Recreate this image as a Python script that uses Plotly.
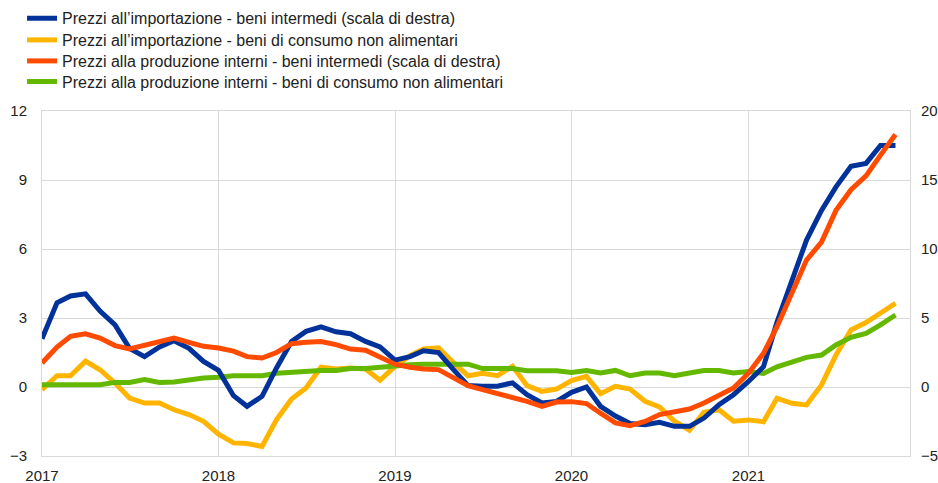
"""
Prezzi all'importazione e alla produzione - beni intermedi e di consumo non alimentari.
"""
import pandas as pd
import plotly.graph_objects as go

# Monthly observations, Jan 2017 - Nov 2021
months = pd.date_range("2017-01-01", periods=59, freq="MS")

# Prezzi all'importazione - beni intermedi (right axis)
import_intermediate = [
    3.5, 6.1, 6.6, 6.75, 5.5, 4.5, 2.8, 2.2, 2.9, 3.35, 2.8, 1.85,
    1.2, -0.63, -1.4, -0.68, 1.38, 3.3, 4.03, 4.35, 4.0, 3.86, 3.3, 2.9,
    1.95, 2.2, 2.63, 2.5, 1.3, 0.1, 0.05, 0.05, 0.3, -0.55, -1.15, -1.05,
    -0.39, 0.0, -1.4, -2.1, -2.65, -2.73, -2.56, -2.85, -2.85, -2.25, -1.28, -0.56,
    0.4, 1.47, 4.7, 7.6, 10.65, 12.8, 14.5, 16.0, 16.2, 17.5, 17.5,
]

# Prezzi all'importazione - beni di consumo non alimentari (left axis)
import_consumer = [
    -0.12, 0.49, 0.49, 1.12, 0.75, 0.17, -0.48, -0.7, -0.7, -0.99, -1.2, -1.49,
    -2.05, -2.43, -2.46, -2.58, -1.42, -0.52, -0.04, 0.86, 0.78, 0.83, 0.78, 0.29,
    0.9, 1.36, 1.65, 1.7, 1.07, 0.49, 0.6, 0.49, 0.9, 0.06, -0.19, -0.09,
    0.28, 0.46, -0.29, 0.03, -0.09, -0.62, -0.87, -1.49, -1.88, -1.1, -0.99, -1.49,
    -1.43, -1.51, -0.49, -0.71, -0.78, 0.09, 1.39, 2.48, 2.8, 3.2, 3.64,
]

# Prezzi alla produzione interni - beni intermedi (right axis)
producer_intermediate = [
    1.74, 2.9, 3.67, 3.86, 3.55, 3.0, 2.75, 3.0, 3.3, 3.55, 3.24, 2.95,
    2.82, 2.6, 2.2, 2.1, 2.5, 3.14, 3.24, 3.3, 3.07, 2.75, 2.66, 2.17,
    1.65, 1.43, 1.3, 1.26, 0.72, 0.1, -0.19, -0.48, -0.68, -1.04, -1.4, -1.09,
    -1.06, -1.2, -1.9, -2.6, -2.8, -2.5, -2.0, -1.84, -1.6, -1.16, -0.63, -0.07,
    1.0, 2.44, 4.37, 6.8, 9.2, 10.5, 12.8, 14.3, 15.3, 16.8, 18.3,
]

# Prezzi alla produzione interni - beni di consumo non alimentari (left axis)
producer_consumer = [
    0.1, 0.1, 0.1, 0.1, 0.1, 0.2, 0.2, 0.32, 0.2, 0.22, 0.32, 0.39,
    0.42, 0.49, 0.49, 0.49, 0.6, 0.64, 0.72, 0.72, 0.72, 0.8, 0.8, 0.87,
    0.92, 0.97, 0.99, 1.0, 1.0, 0.99, 0.8, 0.8, 0.8, 0.71, 0.71, 0.71,
    0.63, 0.72, 0.61, 0.72, 0.49, 0.61, 0.61, 0.49, 0.61, 0.72, 0.72, 0.61,
    0.67, 0.59, 0.88, 1.1, 1.29, 1.39, 1.83, 2.16, 2.33, 2.7, 3.13,
]

SERIES = [
    # (name, values, colour, axis, legend id)
    ("Prezzi all\u2019importazione - beni di consumo non alimentari",
     import_consumer, "#FFB400", "y", "legend2"),
    ("Prezzi alla produzione interni - beni di consumo non alimentari",
     producer_consumer, "#65B800", "y", "legend4"),
    ("Prezzi all\u2019importazione - beni intermedi (scala di destra)",
     import_intermediate, "#003299", "y2", "legend"),
    ("Prezzi alla produzione interni - beni intermedi (scala di destra)",
     producer_intermediate, "#FF4B00", "y2", "legend3"),
]

FONT = "Liberation Sans, Arial, sans-serif"
GRID = "#d9d9d9"
TEXT = "#222222"
W, H = 938, 483

fig = go.Figure()
for name, values, colour, axis, legend_id in SERIES:
    fig.add_trace(go.Scatter(
        x=months,
        y=values,
        name=name,
        mode="lines",
        line=dict(color=colour, width=5),
        yaxis=axis,
        legend=legend_id,
    ))


def _legend(row_y):
    # one single-entry legend per row so the row spacing matches the original
    return dict(
        xref="container", yref="container",
        x=0.0235, y=1 - row_y / H,
        xanchor="left", yanchor="middle",
        bgcolor="rgba(0,0,0,0)",
        font=dict(family=FONT, size=16, color=TEXT),
    )


fig.update_layout(
    width=W,
    height=H,
    margin=dict(l=42, r=28, t=111, b=27, autoexpand=False),
    paper_bgcolor="white",
    plot_bgcolor="white",
    font=dict(family=FONT, size=15, color=TEXT),
    showlegend=True,
    legend=_legend(18.3),
    legend2=_legend(40),
    legend3=_legend(61),
    legend4=_legend(81.7),
    xaxis=dict(
        type="date",
        range=["2017-01-01", "2021-12-01"],
        tick0="2017-01-01",
        dtick="M12",
        tickformat="%Y",
        showgrid=True,
        gridcolor=GRID,
        gridwidth=1,
        showline=True,
        linecolor=GRID,
        mirror=True,
        ticks="",
        ticklabelstandoff=6,
        zeroline=False,
        automargin=False,
    ),
    yaxis=dict(
        range=[-3, 12],
        tickvals=[-3, 0, 3, 6, 9, 12],
        showgrid=True,
        gridcolor=GRID,
        gridwidth=1,
        showline=True,
        linecolor=GRID,
        mirror=True,
        zeroline=False,
        ticks="",
        ticklabelstandoff=11,
        automargin=False,
    ),
    yaxis2=dict(
        range=[-5, 20],
        tickvals=[-5, 0, 5, 10, 15, 20],
        overlaying="y",
        side="right",
        showgrid=False,
        zeroline=False,
        ticks="",
        ticklabelstandoff=10,
        automargin=False,
    ),
)

# drop the default page margin so the figure sits at the window's top-left corner
fig.write_html(
    "out.html",
    config={"displayModeBar": False},
    post_script="document.body.style.margin = '0';",
)
